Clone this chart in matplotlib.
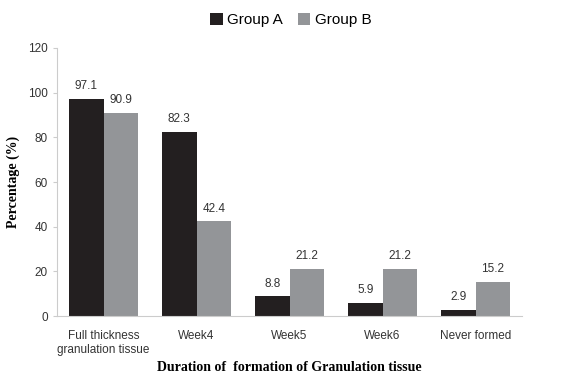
import numpy as np
import matplotlib.pyplot as plt

categories = ['Full thickness\ngranulation tissue', 'Week4', 'Week5', 'Week6', 'Never formed']
group_a = [97.1, 82.3, 8.8, 5.9, 2.9]
group_b = [90.9, 42.4, 21.2, 21.2, 15.2]
yticks = [0, 20, 40, 60, 80, 100, 120]

plt.rcParams['font.family'] = ['Liberation Sans', 'DejaVu Sans']

fig = plt.figure(figsize=(5.82, 3.8), dpi=100)
ax = fig.add_axes([0.098, 0.168, 0.799, 0.706])

x = np.arange(len(categories))
w = 0.37
ba = ax.bar(x - w/2, group_a, w, color='#231f20', label='Group A')
bb = ax.bar(x + w/2, group_b, w, color='#939598', label='Group B')

for bars, vals in ((ba, group_a), (bb, group_b)):
    for b, v in zip(bars, vals):
        ax.text(b.get_x() + b.get_width()/2, v + 3, f'{v:.1f}',
                ha='center', va='bottom', fontsize=8.5, color='#333333')

ax.set_xlim(-0.5, len(categories) - 0.5)
ax.set_ylim(0, 120)
ax.set_yticks(yticks)
ax.set_xticks(x)
ax.set_xticklabels(categories, fontsize=8.5, color='#333333')
ax.tick_params(axis='y', labelsize=8.5, labelcolor='#333333', length=3, color='#cccccc')
ax.tick_params(axis='x', length=0, pad=10)

for s in ['top', 'right']:
    ax.spines[s].set_visible(False)
ax.spines['left'].set_color('#cccccc')
ax.spines['bottom'].set_color('#cccccc')

ax.set_ylabel('Percentage (%)', family='Liberation Serif', fontweight='bold', fontsize=10, labelpad=6)
ax.set_xlabel('Duration of  formation of Granulation tissue', family='Liberation Serif',
              fontweight='bold', fontsize=10, labelpad=4)

fig.legend(handles=[ba, bb], loc='center', bbox_to_anchor=(0.5, 0.947), ncol=2, frameon=False,
           fontsize=11, handlelength=0.8, handleheight=0.8, handletextpad=0.3, columnspacing=1.0)

fig.savefig('out.png', dpi=100)
